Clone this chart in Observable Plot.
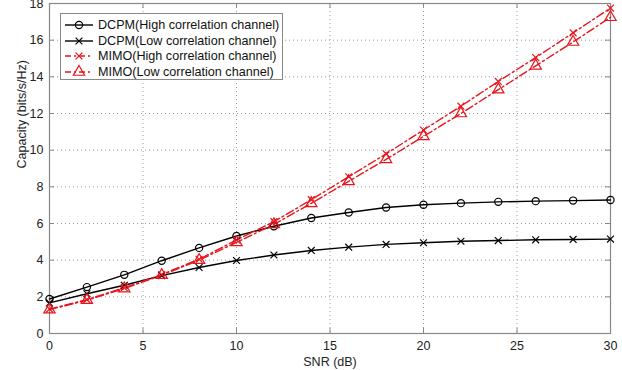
<!DOCTYPE html>
<html>
<head>
<meta charset="utf-8">
<script src="https://cdn.jsdelivr.net/npm/d3@7"></script>
<script src="https://cdn.jsdelivr.net/npm/@observablehq/plot@0.6"></script>
<style>
  html, body { margin: 0; padding: 0; background: #fff; }
  #wrap { position: relative; width: 622px; height: 370px; font-family: "Liberation Sans", Arial, sans-serif; }
  #legend { position: absolute; left: 60px; top: 13px; width: 223px; height: 67px; background: #fff; border: 1px solid #888; box-sizing: border-box; }
  .row { position: absolute; left: 0; height: 16px; display: flex; align-items: center; font-size: 12.6px; color: #111; white-space: nowrap; }
  .row svg { margin-left: 3px; margin-right: 4px; }
</style>
</head>
<body>
<div id="wrap"><div id="chart"></div><div id="legend"></div></div>
<script>
const snr = [0, 2, 4, 6, 8, 10, 12, 14, 16, 18, 20, 22, 24, 26, 28, 30];
const seriesNames = [
  "DCPM(High correlation channel)",
  "DCPM(Low correlation channel)",
  "MIMO(High correlation channel)",
  "MIMO(Low correlation channel)"
];
const dcpmHigh = [1.88, 2.53, 3.2, 3.97, 4.67, 5.32, 5.85, 6.3, 6.6, 6.87, 7.02, 7.11, 7.18, 7.22, 7.25, 7.28];
const dcpmLow  = [1.67, 2.17, 2.63, 3.16, 3.6, 3.98, 4.28, 4.53, 4.71, 4.86, 4.95, 5.03, 5.07, 5.11, 5.13, 5.15];
const mimoHigh = [1.33, 1.85, 2.5, 3.22, 4.05, 5.1, 6.1, 7.3, 8.55, 9.8, 11.1, 12.4, 13.75, 15.05, 16.4, 17.75];
const mimoLow  = [1.3, 1.82, 2.45, 3.18, 4.0, 4.97, 5.95, 7.1, 8.3, 9.5, 10.75, 12.0, 13.3, 14.6, 15.9, 17.25];
const xTicks = [0, 5, 10, 15, 20, 25, 30];
const yTicks = [0, 2, 4, 6, 8, 10, 12, 14, 16, 18];

const styles = [
  {stroke: "#000", dash: null, symbol: "circle", r: 3.6},
  {stroke: "#000", dash: null, symbol: "times", r: 3.2},
  {stroke: "#e8141c", dash: "8,3,2,3", symbol: "times", r: 3.2},
  {stroke: "#e8141c", dash: "8,3,2,3", symbol: "triangle", r: 4.2}
];
const values = [dcpmHigh, dcpmLow, mimoHigh, mimoLow];
const data = values.flatMap((vals, i) => vals.map((v, j) => ({snr: snr[j], cap: v, s: i})));

const W = 622, H = 370, mL = 49, mR = 12, mT = 3, mB = 37;
const fw = W - mL - mR, fh = H - mT - mB;
const grid = "#9a9a9a", frameCol = "#888";

const marks = [
  Plot.ruleX(xTicks, {x: d => d, stroke: grid, strokeDasharray: "1,3", strokeWidth: 1}),
  Plot.ruleY(yTicks, {y: d => d, stroke: grid, strokeDasharray: "1,3", strokeWidth: 1}),
  Plot.ruleX(xTicks, {x: d => d, stroke: frameCol, insetTop: fh - 5}),
  Plot.ruleX(xTicks, {x: d => d, stroke: frameCol, insetBottom: fh - 5}),
  Plot.ruleY(yTicks, {y: d => d, stroke: frameCol, insetRight: fw - 5}),
  Plot.ruleY(yTicks, {y: d => d, stroke: frameCol, insetLeft: fw - 5}),
  Plot.frame({stroke: frameCol, strokeWidth: 1.2})
];
styles.forEach((st, i) => {
  const d = data.filter(p => p.s === i);
  marks.push(Plot.line(d, {x: "snr", y: "cap", stroke: st.stroke, strokeWidth: 1.4, strokeDasharray: st.dash}));
});
styles.forEach((st, i) => {
  const d = data.filter(p => p.s === i);
  marks.push(Plot.dot(d, {x: "snr", y: "cap", stroke: st.stroke, fill: "none", symbol: st.symbol, r: st.r, strokeWidth: 1.2}));
});
marks.push(Plot.text([0], {frameAnchor: "bottom", text: () => "SNR (dB)", dy: 32, fontSize: 12.5, fill: "#222"}));
marks.push(Plot.text([0], {frameAnchor: "left", text: () => "Capacity (bits/s/Hz)", dx: -28, rotate: -90, fontSize: 12.5, fill: "#222"}));

const chart = Plot.plot({
  width: W, height: H,
  marginLeft: mL, marginRight: mR, marginTop: mT, marginBottom: mB,
  style: {fontFamily: "'Liberation Sans', Arial, sans-serif", fontSize: "12.5px", color: "#222", background: "#fff"},
  x: {domain: [0, 30], ticks: xTicks, tickSize: 0, tickPadding: 8, label: null},
  y: {domain: [0, 18], ticks: yTicks, tickSize: 0, tickPadding: 6, label: null},
  marks
});
document.getElementById("chart").appendChild(chart);

// legend
const leg = document.getElementById("legend");
const rowTops = [3, 19, 34, 50];
seriesNames.forEach((name, i) => {
  const st = styles[i];
  const row = document.createElement("div");
  row.className = "row";
  row.style.top = rowTops[i] + "px";
  const s = d3.create("svg").attr("width", 30).attr("height", 16);
  s.append("line").attr("x1", 1).attr("x2", 29).attr("y1", 8).attr("y2", 8)
    .attr("stroke", st.stroke).attr("stroke-width", 1.4)
    .attr("stroke-dasharray", st.dash ? "6,3,2,3" : null);
  const sym = {circle: d3.symbolCircle, times: d3.symbolTimes, triangle: d3.symbolTriangle}[st.symbol];
  s.append("path").attr("transform", "translate(15,8)")
    .attr("d", d3.symbol(sym, Math.PI * st.r * st.r)())
    .attr("fill", "none").attr("stroke", st.stroke).attr("stroke-width", 1.2);
  row.appendChild(s.node());
  const t = document.createElement("span");
  t.textContent = name;
  row.appendChild(t);
  leg.appendChild(row);
});
</script>
</body>
</html>
